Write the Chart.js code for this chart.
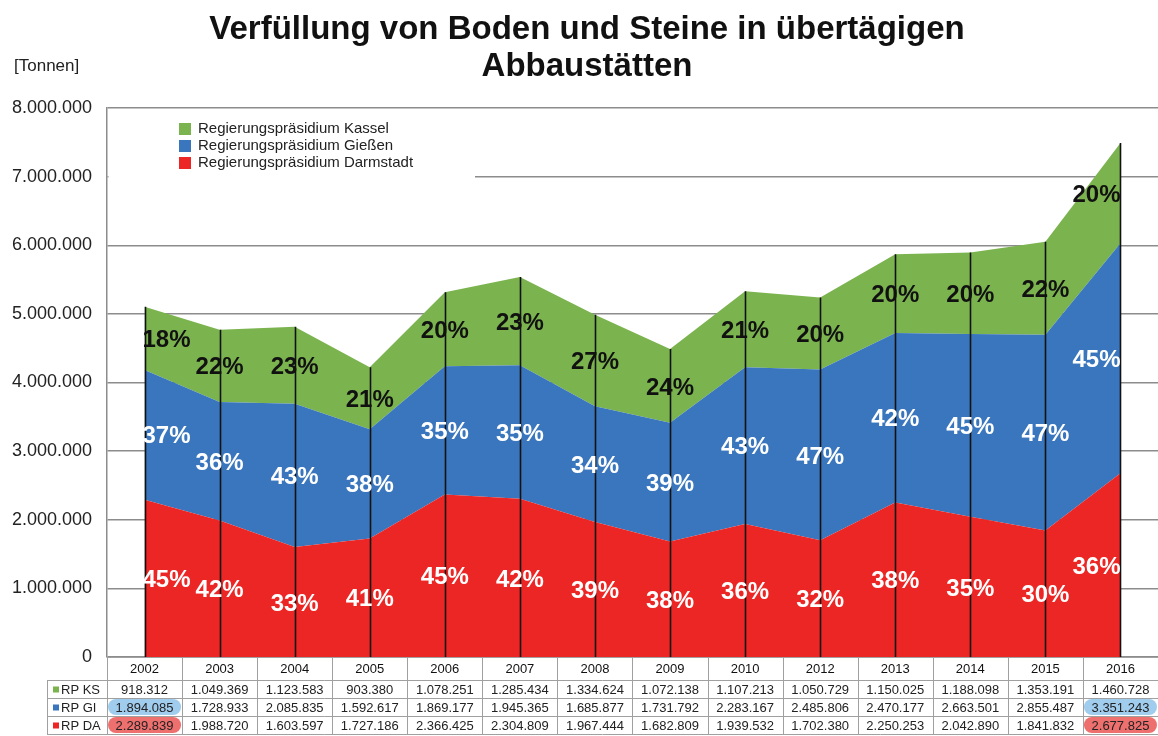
<!DOCTYPE html>
<html><head><meta charset="utf-8">
<script src="https://cdn.jsdelivr.net/npm/chart.js@4/dist/chart.umd.min.js"></script>
<style>html,body{margin:0;padding:0;background:#fff}#wrap{width:1158px;height:736px}</style>
</head><body><div id="wrap"><canvas id="c" width="1158" height="736"></canvas></div>
<script>
const years = ['2002','2003','2004','2005','2006','2007','2008','2009','2010','2012','2013','2014','2015','2016'];
const rpKassel = [918312,1049369,1123583,903380,1078251,1285434,1334624,1072138,1107213,1050729,1150025,1188098,1353191,1460728];
const rpGiessen = [1894085,1728933,2085835,1592617,1869177,1945365,1685877,1731792,2283167,2485806,2470177,2663501,2855487,3351243];
const rpDarmstadt = [2289839,1988720,1603597,1727186,2366425,2304809,1967444,1682809,1939532,1702380,2250253,2042890,1841832,2677825];
const legendLabels = ['Regierungspräsidium Kassel','Regierungspräsidium Gießen','Regierungspräsidium Darmstadt'];
const rowLabels = ['RP KS','RP GI','RP DA'];
const titleLines = ['Verfüllung von Boden und Steine in übertägigen','Abbaustätten'];
const unitLabel = '[Tonnen]';
const yMax = 8000000, yStep = 1000000;

const GREEN = 'rgb(123,180,79)', BLUE = 'rgb(58,118,189)', RED = 'rgb(236,38,36)';
const FONT = '"Liberation Sans", Arial, Helvetica, sans-serif';
const fmt = v => String(v).replace(/\B(?=(\d{3})+(?!\d))/g, '.');

function roundRect(ctx, x, y, w, h, r) {
  ctx.beginPath();
  ctx.moveTo(x + r, y);
  ctx.lineTo(x + w - r, y); ctx.arcTo(x + w, y, x + w, y + r, r);
  ctx.lineTo(x + w, y + h - r); ctx.arcTo(x + w, y + h, x + w - r, y + h, r);
  ctx.lineTo(x + r, y + h); ctx.arcTo(x, y + h, x, y + h - r, r);
  ctx.lineTo(x, y + r); ctx.arcTo(x, y, x + r, y, r);
  ctx.closePath();
}

const decor = {
  id: 'decor',
  beforeDatasetsDraw(chart) {
    const ctx = chart.ctx;
    const ca = chart.chartArea;
    ctx.save();
    ctx.fillStyle = '#fff';
    ctx.fillRect(ca.left + 1.5, 112, 475 - ca.left - 1.5, 80);
    const cols = [GREEN, BLUE, RED];
    ctx.font = '15px ' + FONT;
    ctx.textBaseline = 'middle';
    ctx.textAlign = 'left';
    for (let i = 0; i < 3; i++) {
      const y = 129 + i * 17;
      ctx.fillStyle = cols[i];
      ctx.fillRect(179, y - 6, 12, 12);
      ctx.fillStyle = '#222';
      ctx.fillText(legendLabels[i], 198, y);
    }
    ctx.restore();
  },
  afterDatasetsDraw(chart) {
    const ctx = chart.ctx, xs = chart.scales.x, ys = chart.scales.y;
    const n = years.length;
    ctx.save();
    ctx.strokeStyle = '#111';
    ctx.lineWidth = 1.6;
    for (let i = 0; i < n; i++) {
      const x = Math.round(xs.getPixelForValue(i)) + 0.5;
      const tot = rpKassel[i] + rpGiessen[i] + rpDarmstadt[i];
      ctx.beginPath();
      ctx.moveTo(x, ys.getPixelForValue(tot));
      ctx.lineTo(x, ys.getPixelForValue(0));
      ctx.stroke();
    }
    ctx.font = 'bold 24px ' + FONT;
    ctx.textAlign = 'center';
    ctx.textBaseline = 'middle';
    for (let i = 0; i < n; i++) {
      const tot = rpKassel[i] + rpGiessen[i] + rpDarmstadt[i];
      let x = xs.getPixelForValue(i);
      if (i === 0) x += 22;
      if (i === n - 1) x -= 24;
      const segs = [[rpDarmstadt[i], 0, '#fff'], [rpGiessen[i], rpDarmstadt[i], '#fff'], [rpKassel[i], rpDarmstadt[i] + rpGiessen[i], '#111']];
      segs.forEach(([v, base, col]) => {
        const pct = Math.round(v / tot * 100) + '%';
        ctx.fillStyle = col;
        ctx.fillText(pct, x, ys.getPixelForValue(base + v / 2) + 2);
      });
    }
    const w = xs.getPixelForValue(1) - xs.getPixelForValue(0);
    const left = xs.getPixelForValue(0) - w / 2;
    const right = xs.getPixelForValue(n - 1) + w / 2;
    const top = ys.getPixelForValue(0);
    const rowsY = [top, top + 23, top + 41, top + 59, top + 77];
    const labelLeft = 47;
    ctx.fillStyle = '#fff';
    ctx.fillRect(left, top + 1, right - left, 22);
    ctx.fillRect(labelLeft, rowsY[1], right - labelLeft, 77 - 23);
    const hl = [[0, 1, 'rgb(160,204,238)'], [0, 2, 'rgb(238,112,110)'], [n - 1, 1, 'rgb(160,204,238)'], [n - 1, 2, 'rgb(238,112,110)']];
    hl.forEach(([ci, ri, col]) => {
      const cx = left + ci * w;
      ctx.fillStyle = col;
      roundRect(ctx, cx + 1, rowsY[ri + 1] + 1, w - 2, rowsY[ri + 2] - rowsY[ri + 1] - 2, 8);
      ctx.fill();
    });
    ctx.strokeStyle = '#a0a0a0';
    ctx.lineWidth = 1;
    for (let r = 0; r < rowsY.length; r++) {
      const y = Math.round(rowsY[r]) + 0.5;
      ctx.beginPath();
      ctx.moveTo(r === 0 ? left : labelLeft, y);
      ctx.lineTo(right, y);
      ctx.stroke();
    }
    ctx.beginPath();
    ctx.moveTo(labelLeft + 0.5, rowsY[1]); ctx.lineTo(labelLeft + 0.5, rowsY[4]);
    ctx.stroke();
    for (let i = 0; i <= n; i++) {
      const x = Math.round(left + i * w) + 0.5;
      ctx.beginPath();
      ctx.moveTo(x, rowsY[0]); ctx.lineTo(x, rowsY[4]);
      ctx.stroke();
    }
    ctx.fillStyle = '#111';
    ctx.font = '13px ' + FONT;
    ctx.textAlign = 'center';
    ctx.textBaseline = 'middle';
    for (let i = 0; i < n; i++) {
      ctx.fillText(years[i], left + (i + 0.5) * w, (rowsY[0] + rowsY[1]) / 2 + 1);
    }
    const rows = [rpKassel, rpGiessen, rpDarmstadt];
    const cols = [GREEN, BLUE, RED];
    for (let r = 0; r < 3; r++) {
      const cy = (rowsY[r + 1] + rowsY[r + 2]) / 2 + 1;
      ctx.font = '13px ' + FONT;
      ctx.fillStyle = '#222';
      ctx.textAlign = 'center';
      for (let i = 0; i < n; i++) {
        ctx.fillText(fmt(rows[r][i]), left + (i + 0.5) * w, cy);
      }
      ctx.fillStyle = cols[r];
      ctx.fillRect(53, cy - 3.5, 6, 6);
      ctx.fillStyle = '#222';
      ctx.textAlign = 'left';
      ctx.fillText(rowLabels[r], 61, cy);
    }
    ctx.restore();
  },
  afterDraw(chart) {
    const ctx = chart.ctx;
    ctx.save();
    ctx.fillStyle = '#111';
    ctx.font = 'bold 33px ' + FONT;
    ctx.textAlign = 'center';
    ctx.textBaseline = 'middle';
    ctx.fillText(titleLines[0], 587, 30);
    ctx.fillText(titleLines[1], 587, 67);
    ctx.font = '17px ' + FONT;
    ctx.textAlign = 'left';
    ctx.fillStyle = '#222';
    ctx.fillText(unitLabel, 14, 66);
    ctx.restore();
  }
};

new Chart(document.getElementById('c'), {
  type: 'line',
  data: {
    labels: years,
    datasets: [
      { label: legendLabels[2], data: rpDarmstadt, backgroundColor: RED, borderColor: RED, borderWidth: 0, fill: 'origin', pointRadius: 0, tension: 0 },
      { label: legendLabels[1], data: rpGiessen, backgroundColor: BLUE, borderColor: BLUE, borderWidth: 0, fill: '-1', pointRadius: 0, tension: 0 },
      { label: legendLabels[0], data: rpKassel, backgroundColor: GREEN, borderColor: GREEN, borderWidth: 0, fill: '-1', pointRadius: 0, tension: 0 }
    ]
  },
  options: {
    responsive: false,
    animation: false,
    devicePixelRatio: 1,
    layout: { padding: { top: 108, bottom: 79, left: 0, right: 0 } },
    plugins: { legend: { display: false }, title: { display: false }, tooltip: { enabled: false } },
    scales: {
      x: { type: 'category', offset: true, display: false },
      y: {
        stacked: true, min: 0, max: yMax,
        afterFit: s => { s.width = 107; },
        ticks: { stepSize: yStep, callback: v => fmt(v), color: '#222', font: { size: 18, family: FONT }, padding: 15 },
        grid: { color: '#8c8c8c', lineWidth: 1.5, drawTicks: false },
        border: { display: true, color: '#8c8c8c', width: 1.5 }
      }
    }
  },
  plugins: [decor]
});
</script>
</body></html>
